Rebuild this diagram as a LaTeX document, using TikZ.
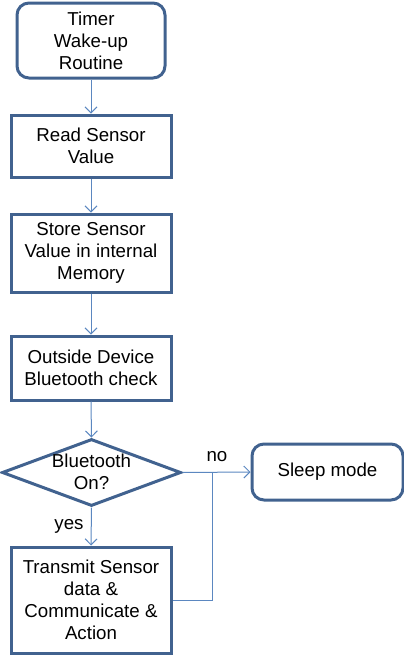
\documentclass[tikz,border=0pt]{standalone}
\usepackage{fontspec}
\setmainfont{Liberation Sans}
\usetikzlibrary{shapes.geometric,arrows.meta}
\definecolor{boxc}{HTML}{41628F}
\definecolor{linec}{HTML}{5B87C0}
\tikzset{
  base/.style={draw=boxc, line width=3pt, align=center, font=\fontsize{18.7}{22}\selectfont, inner sep=0pt},
  rbox/.style={base, rounded corners=12pt},
  sbox/.style={base},
  conn/.style={draw=linec, line width=1pt, -{Straight Barb[length=6pt,width=12pt,line width=1pt]}},
  plain/.style={draw=linec, line width=1pt},
  lbl/.style={font=\fontsize{18.7}{22}\selectfont}
}
\begin{document}
\begin{tikzpicture}[x=1pt,y=-1pt]
\useasboundingbox (0,0) rectangle (404,656);
\node[rbox, minimum width=148pt, minimum height=75pt] (timer) at (91,40.5) {Timer\\Wake-up\\Routine};
\node[sbox, minimum width=160pt, minimum height=62pt] (read) at (91,146) {Read Sensor\\Value};
\node[sbox, minimum width=160pt, minimum height=78pt] (store) at (91,253) {Store Sensor\\Value in internal\\Memory};
\node[sbox, minimum width=160pt, minimum height=64pt] (outside) at (91,368) {Outside Device\\Bluetooth check};
\node[base, diamond, aspect=2.67, minimum width=179pt, minimum height=67pt] (bt) at (91.5,472.5) {};
\node[lbl, align=center] at (91.5,472) {Bluetooth\\On?};
\node[rbox, minimum width=151pt, minimum height=56pt] (sleep) at (327.5,472) {Sleep mode};
\node[sbox, minimum width=160pt, minimum height=106pt] (tx) at (91,600) {Transmit Sensor\\data \&\\Communicate \&\\Action};
\coordinate (j) at (212,472);
\coordinate (k) at (212,600);
\draw[conn] (timer.south) -- (read.north);
\draw[conn] (read.south) -- (store.north);
\draw[conn] (store.south) -- (outside.north);
\draw[conn] (outside.south) -- (bt.north);
\draw[conn] (bt.east) -- (sleep.west);
\draw[conn] (bt.south) -- (tx.north);
\draw[plain] (tx.east |- k) -- (k) -- (j);
\node[lbl] (no) at (217,457) {no};
\node[lbl] (yes) at (69,526) {yes};
\end{tikzpicture}
\end{document}
